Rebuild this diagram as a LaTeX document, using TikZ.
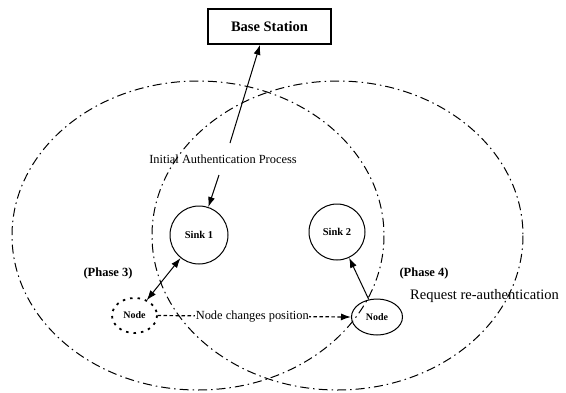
\documentclass[tikz,border=0pt]{standalone}
\usepackage{fontspec}
\setmainfont{Liberation Serif}
\usetikzlibrary{shapes.geometric,arrows.meta,calc}
\begin{document}
\begin{tikzpicture}[x=1pt,y=-1pt,
  zone/.style={line width=1pt, dash pattern=on 9pt off 4pt on 1.5pt off 4pt},
  arr/.style={line width=1pt,-{Latex[length=10pt,width=7pt]}},
  darr/.style={line width=1pt,{Latex[length=10pt,width=7pt]}-{Latex[length=10pt,width=7pt]}},
  sinkc/.style={circle, draw, line width=1pt, font=\fontsize{10.5}{12}\selectfont\bfseries, inner sep=0pt},
  nodee/.style={ellipse, draw, line width=1pt, font=\fontsize{10}{12}\selectfont\bfseries, inner sep=0pt},
  lbl/.style={font=\fontsize{12.4}{14}\selectfont, inner sep=1pt},
  phase/.style={font=\fontsize{12.5}{14}\selectfont\bfseries, inner sep=0pt}
]
\useasboundingbox (0,0) rectangle (566,392);
% coverage zones
\draw[zone] (198,235.5) ellipse [x radius=186, y radius=154.5];
\draw[zone] (337.5,235.5) ellipse [x radius=185.5, y radius=154.5];
% nodes
\node[draw, line width=1.6pt, minimum width=123pt, minimum height=35pt, inner sep=0pt,
      font=\fontsize{14.5}{16}\selectfont\bfseries] (bs) at (269.5,26.5) {Base Station};
\node[lbl] (iap) at (223,159) {Initial Authentication Process};
\node[sinkc, minimum size=58pt] (sink1) at (199,235) {Sink 1};
\node[sinkc, minimum size=56pt] (sink2) at (337,232) {Sink 2};
\node[nodee, minimum width=45pt, minimum height=35pt, draw=none] (node1) at (134.5,315.5) {Node};
\draw[line width=1.8pt, dash pattern=on 2.5pt off 5pt] (node1.center) ellipse [x radius=22.5, y radius=17.5];
\node[nodee, minimum width=51pt, minimum height=36pt] (node2) at (377,317) {Node};
\node[phase] (ph3) at (108,273) {(Phase 3)};
\node[phase] (ph4) at (424,273) {(Phase 4)};
\node[font=\fontsize{14.5}{16}\selectfont, inner sep=0pt] (req) at (484.5,296) {Request re-authentication};
% connectors
\coordinate (a1) at (230,143);
\coordinate (a2) at (219,175);
\draw[arr] (a1) -- ($(bs.south)+(-9.5,0)$);
\draw[arr] (a2) -- (sink1);
\draw[darr] (node1) -- (sink1);
\draw[arr] (node2) -- (sink2);
\draw[line width=1.2pt, dash pattern=on 3.5pt off 2.5pt, -{Latex[length=10pt,width=7pt]}] (node1.east) -- (node2.west)
  node[pos=0.49, fill=white, font=\fontsize{12.4}{14}\selectfont, inner sep=0.5pt] (ncp) {Node changes position};
\end{tikzpicture}
\end{document}
